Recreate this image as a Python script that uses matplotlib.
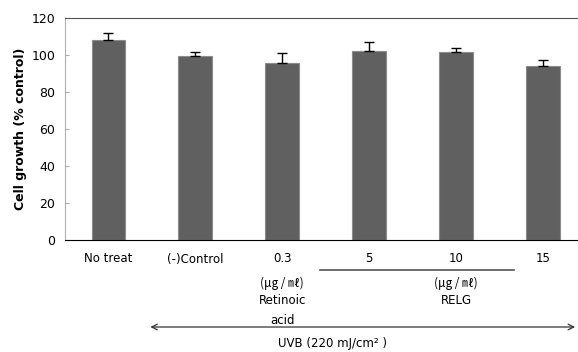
import numpy as np
import matplotlib.pyplot as plt

plt.rcParams['font.family'] = ['DejaVu Sans', 'Noto Sans CJK KR']

categories = ['No treat', '(-)Control', '0.3', '5', '10', '15']
growth = [108, 99.5, 95.7, 102.2, 101.4, 94]
err_up = [4, 2.3, 5.2, 5.0, 2.6, 3.5]

fig = plt.figure(figsize=(5.78, 3.52), dpi=100)
ax = fig.add_axes([65/578, 1 - 240/352, (577 - 65)/578, (240 - 18)/352])

x = np.arange(len(categories))
ax.bar(x, growth, width=0.39, color='#606060', edgecolor='#8c8c8c', linewidth=0.8, zorder=2)
ax.errorbar(x, growth, yerr=[np.zeros(len(x)), err_up], fmt='none', ecolor='black',
            elinewidth=1, capsize=3.5, capthick=1, zorder=3)

ax.set_xlim(-0.5, 5.39)
ax.set_ylim(0, 120)
ax.set_yticks(range(0, 121, 20))
ax.tick_params(axis='y', direction='in', length=3, color='#aaaaaa', labelsize=9, pad=7)
ax.tick_params(axis='x', length=0, labelsize=8.5, pad=9)
ax.set_xticks(x)
ax.set_xticklabels(categories)

ax.spines['left'].set_color('#b0b0b0')
ax.spines['top'].set_color('#555555')
ax.spines['bottom'].set_color('black')
ax.spines['right'].set_visible(False)

ax.set_ylabel('Cell growth (% control)', fontsize=9, fontweight='bold')
ax.yaxis.set_label_coords(-0.075, 0.5)

# lower annotations (axes-fraction y, data x)
tr = ax.get_xaxis_transform()
def yfrac(py):
    return (240 - py) / (240 - 18)

unit = '(μg / ㎖)'
ax.text(2, yfrac(283), unit, transform=tr, ha='center', va='center', fontsize=8.5,
        family=['Noto Sans CJK KR', 'DejaVu Sans'])
ax.text(2, yfrac(301), 'Retinoic', transform=tr, ha='center', va='center', fontsize=8.5)
ax.text(2, yfrac(320), 'acid', transform=tr, ha='center', va='center', fontsize=8.5)
ax.text(4, yfrac(283), unit, transform=tr, ha='center', va='center', fontsize=8.5,
        family=['Noto Sans CJK KR', 'DejaVu Sans'])
ax.text(4, yfrac(301), 'RELG', transform=tr, ha='center', va='center', fontsize=8.5)

ax.plot([2.43, 4.67], [yfrac(270)] * 2, transform=tr, color='#555555', lw=1.2, clip_on=False)
ax.annotate('', xy=(5.4, yfrac(327)), xytext=(0.45, yfrac(327)), xycoords=tr, textcoords=tr,
            arrowprops=dict(arrowstyle='<->', color='#333333', lw=0.9, mutation_scale=10))
ax.text(2.58, yfrac(343), 'UVB (220 mJ/cm² )', transform=tr, ha='center', va='center', fontsize=8.5)

fig.savefig('out.png', dpi=100)
